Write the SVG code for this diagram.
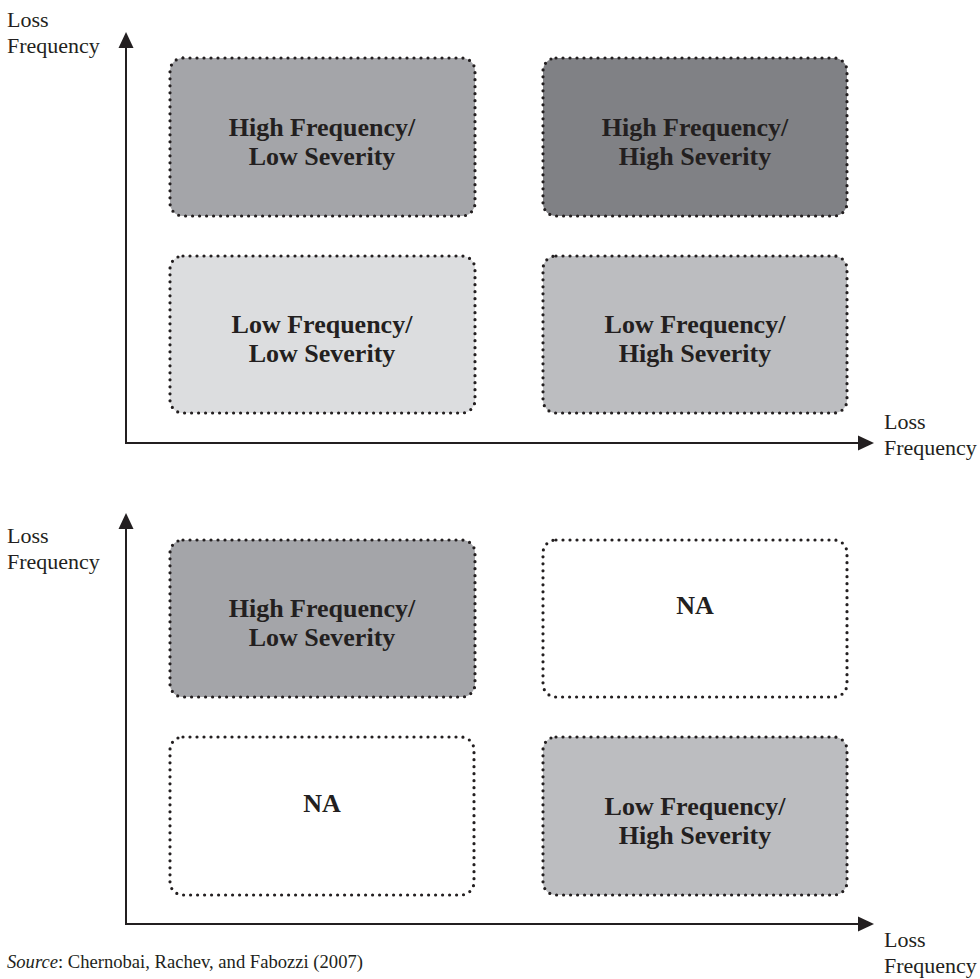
<svg xmlns="http://www.w3.org/2000/svg" width="980" height="979" viewBox="0 0 980 979">
<style>
.box{stroke:#231f20;stroke-width:3.2;stroke-dasharray:0 7;stroke-linecap:round}
.lbl{font-family:"Liberation Serif","Times New Roman",serif;font-size:26px;font-weight:bold;fill:#231f20;text-anchor:middle}
.ax{font-family:"Liberation Serif","Times New Roman",serif;font-size:22px;fill:#231f20}
.axl{stroke:#231f20;stroke-width:2;fill:none}
.ah{fill:#231f20}
.g40{fill:#a4a5a9}.g60{fill:#808185}.g15{fill:#dcdddf}.g30{fill:#bcbdc0}.g0{fill:#ffffff}
</style>
<rect width="980" height="979" fill="#ffffff"/>
<g id="connectors">
<line class="axl" x1="126" y1="444" x2="126" y2="46"/>
<polygon class="ah" points="126,32 118.5,48 133.5,48"/>
<line class="axl" x1="125" y1="443" x2="860" y2="443"/>
<polygon class="ah" points="874,443 858,435.5 858,450.5"/>
<line class="axl" x1="126" y1="925" x2="126" y2="527"/>
<polygon class="ah" points="126,513 118.5,529 133.5,529"/>
<line class="axl" x1="125" y1="924" x2="860" y2="924"/>
<polygon class="ah" points="874,924 858,916.5 858,931.5"/>
</g>
<g id="axis-labels">
<text class="ax" x="7" y="27">Loss</text>
<text class="ax" x="7" y="53">Frequency</text>
<text class="ax" x="884" y="429">Loss</text>
<text class="ax" x="884" y="455">Frequency</text>
<text class="ax" x="7" y="543">Loss</text>
<text class="ax" x="7" y="569">Frequency</text>
<text class="ax" x="884" y="947">Loss</text>
<text class="ax" x="884" y="973">Frequency</text>
</g>
<g id="top-hf-ls">
<rect class="box g40" x="170" y="58" width="305" height="158" rx="13"/>
<text class="lbl" x="322" y="136">High Frequency/</text>
<text class="lbl" x="322" y="165">Low Severity</text>
</g>
<g id="top-hf-hs">
<rect class="box g60" x="543" y="58" width="304" height="158" rx="13"/>
<text class="lbl" x="695" y="136">High Frequency/</text>
<text class="lbl" x="695" y="165">High Severity</text>
</g>
<g id="top-lf-ls">
<rect class="box g15" x="170" y="256" width="305" height="157" rx="13"/>
<text class="lbl" x="322" y="333">Low Frequency/</text>
<text class="lbl" x="322" y="362">Low Severity</text>
</g>
<g id="top-lf-hs">
<rect class="box g30" x="543" y="256" width="304" height="157" rx="13"/>
<text class="lbl" x="695" y="333">Low Frequency/</text>
<text class="lbl" x="695" y="362">High Severity</text>
</g>
<g id="bot-hf-ls">
<rect class="box g40" x="170" y="540" width="305" height="157" rx="13"/>
<text class="lbl" x="322" y="617">High Frequency/</text>
<text class="lbl" x="322" y="646">Low Severity</text>
</g>
<g id="bot-na-1">
<rect class="box g0" x="543" y="540" width="304" height="157" rx="13"/>
<text class="lbl" x="695" y="614">NA</text>
</g>
<g id="bot-na-2">
<rect class="box g0" x="170" y="737" width="304" height="158" rx="13"/>
<text class="lbl" x="322" y="812">NA</text>
</g>
<g id="bot-lf-hs">
<rect class="box g30" x="543" y="737" width="304" height="158" rx="13"/>
<text class="lbl" x="695" y="815">Low Frequency/</text>
<text class="lbl" x="695" y="844">High Severity</text>
</g>
<text x="7" y="968" font-family="'Liberation Serif','Times New Roman',serif" font-size="18.6" fill="#231f20"><tspan font-style="italic">Source</tspan>: Chernobai, Rachev, and Fabozzi (2007)</text>
</svg>
